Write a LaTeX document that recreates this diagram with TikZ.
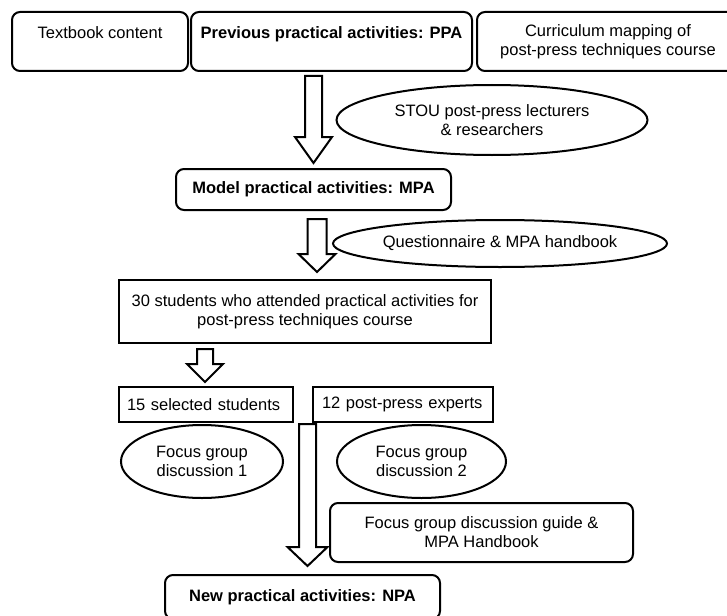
\documentclass[tikz,border=0pt]{standalone}
\usepackage{fontspec}
\setmainfont{Liberation Sans}
\usepackage{tikz}
\usetikzlibrary{positioning, calc, shapes.geometric}
\newcommand{\boxFont}{\fontsize{16.5}{19}\selectfont}
\tikzset{RoundBox/.style={%
    shape=rectangle,%
    draw=black,%
    rounded corners=8pt,%
    line width=2pt,%
    align=center,%
    inner sep=0pt,%
    font=\boxFont,%
}}
\tikzset{SharpBox/.style={%
    RoundBox,%
    sharp corners,%
}}
\tikzset{Bubble/.style={%
    shape=ellipse,%
    draw=black,%
    line width=2pt,%
    align=center,%
    inner sep=0pt,%
    font=\boxFont,%
}}
\tikzset{BlockArrow/.style={%
    draw=black,%
    fill=white,%
    line width=2pt,%
    line join=miter,%
}}
\NewDocumentCommand{\blockArrow}{m m m m m}{%
    \draw[BlockArrow] let \p1=(#1), \p2=(#2) in
        (\x1-#3,\y1) -- (\x1-#3,\y2+#5) -- (\x1-#4,\y2+#5) -- (\x1,\y2)
        -- (\x1+#4,\y2+#5) -- (\x1+#3,\y2+#5) -- (\x1+#3,\y1) -- cycle;%
}

\begin{document}
\begin{tikzpicture}[x=1pt, y=-1pt]
    \useasboundingbox (0,0) rectangle (727,615);

    \node[RoundBox, minimum width=176pt, minimum height=59pt] (tb) at (100,41.5) {Textbook content\\[-6pt]\strut};
    \node[RoundBox, minimum width=281pt, minimum height=59pt, font=\boxFont\bfseries, right=1pt of tb] (ppa) {Previous practical activities: PPA\\[-6pt]\strut};
    \node[RoundBox, minimum width=275pt, minimum height=59pt, right=3pt of ppa] (cur) {\hspace*{-13pt}Curriculum mapping of\\\hspace*{-13pt}post-press techniques course};
    \node[Bubble, minimum width=311pt, minimum height=70pt] (stou) at (492,120) {STOU post-press lecturers\\\& researchers};
    \node[RoundBox, minimum width=275pt, minimum height=41pt, font=\boxFont\bfseries] (mpa) at (313.5,189.5) {Model practical activities: MPA};
    \node[Bubble, minimum width=334pt, minimum height=47pt] (quest) at (500,243.5) {Questionnaire \& MPA handbook};
    \node[SharpBox, minimum width=372pt, minimum height=63pt] (thirty) at (305,311.5) {30 students who attended practical activities for\\post-press techniques course};
    \node[SharpBox, minimum width=174pt, minimum height=35pt, text width=158pt, align=left] (sel) at (206,404.5) {15 selected students};
    \node[SharpBox, minimum width=180pt, minimum height=35pt, text width=162pt, align=left] (exp) at (403,404.5) {12 post-press experts};
    \node[Bubble, minimum width=162pt, minimum height=73pt] (fg1) at (202,461.5) {Focus group\\discussion 1};
    \node[Bubble, minimum width=169pt, minimum height=73pt] (fg2) at (421.5,461.5) {Focus group\\discussion 2};
    \node[RoundBox, minimum width=303pt, minimum height=59pt] (guide) at (481.5,532.5) {Focus group discussion guide \&\\MPA Handbook};
    \node[RoundBox, minimum width=275pt, minimum height=44pt, font=\boxFont\bfseries] (npa) at (302.5,597) {New practical activities: NPA};

    \blockArrow{$(mpa.north |- ppa.south)+(0,4)$}{$(mpa.north)+(0,-5)$}{8.5pt}{18.5pt}{26pt}
    \blockArrow{$(mpa.south)+(3.5,8)$}{$(mpa.south |- thirty.north)+(3.5,-7)$}{9.5pt}{18.5pt}{18pt}
    \blockArrow{$(sel.north |- thirty.south)+(-1,5)$}{$(sel.north)+(-1,-4)$}{8pt}{18pt}{18pt}
    \blockArrow{$(npa.north |- exp.south)+(5,1)$}{$(npa.north)+(5,-8)$}{8.5pt}{20pt}{19pt}
\end{tikzpicture}
\end{document}
